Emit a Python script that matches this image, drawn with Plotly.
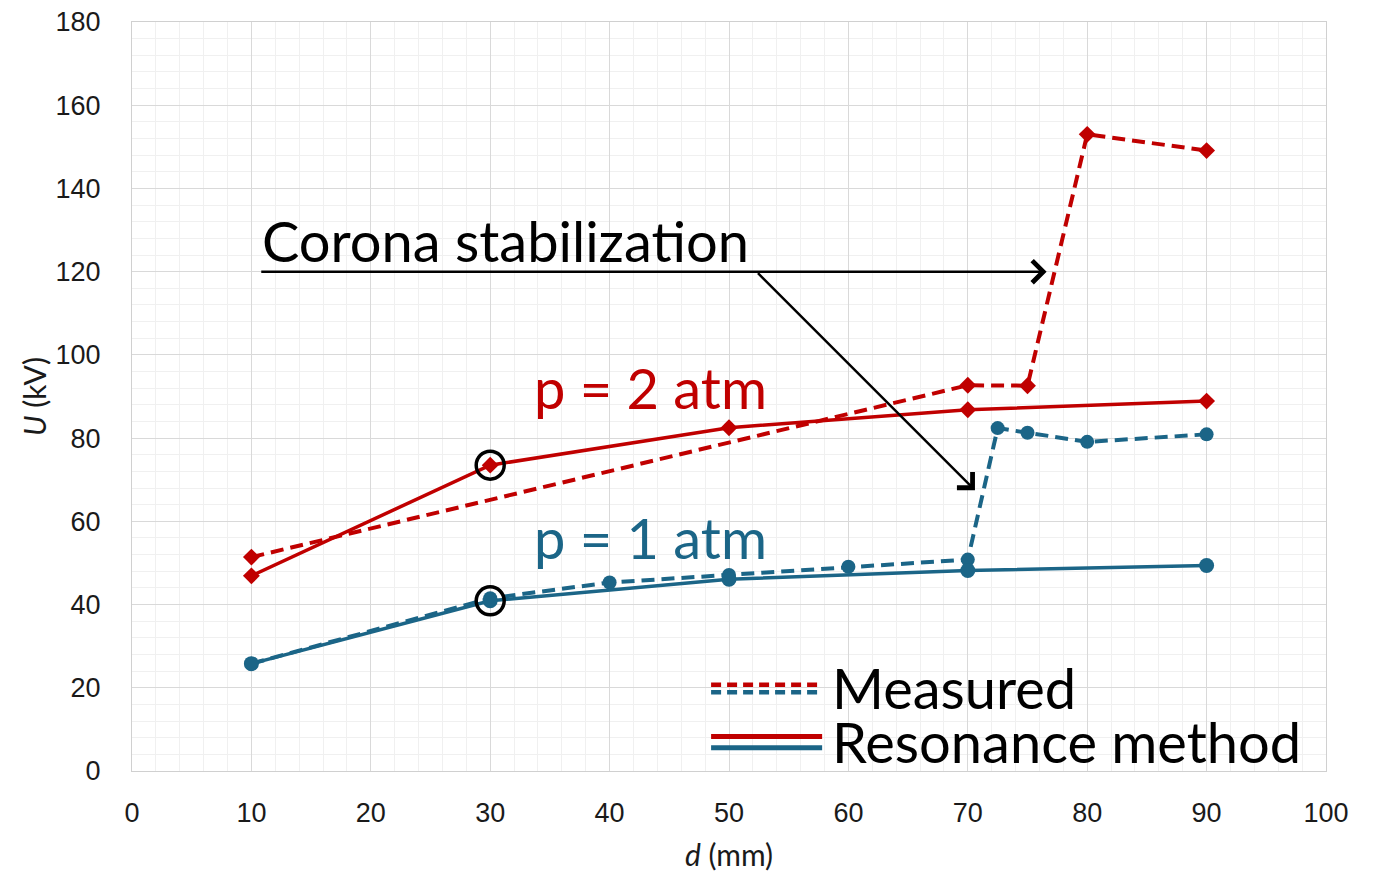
import plotly.graph_objects as go

# Breakdown voltage vs gap distance
d_meas_2atm = [10, 70, 75, 80, 90]
u_meas_2atm = [51.4, 92.7, 92.6, 153.0, 149.1]

d_res_2atm = [10, 30, 50, 70, 90]
u_res_2atm = [46.9, 73.5, 82.5, 86.8, 88.9]

d_meas_1atm = [10, 30, 40, 50, 60, 70, 72.5, 75, 80, 90]
u_meas_1atm = [25.8, 41.5, 45.3, 47.1, 49.1, 50.8, 82.4, 81.3, 79.1, 80.9]

d_res_1atm = [10, 30, 50, 70, 90]
u_res_1atm = [25.8, 40.9, 46.1, 48.2, 49.4]

# points highlighted with a ring (index into resonance series)
ring_idx = 1

x_ticks = list(range(0, 101, 10))
y_ticks = list(range(0, 181, 20))

RED = "#C00000"
BLUE = "#1B6587"
TEXT_FONT = "Lato"
TICK_FONT = "Liberation Sans"
DASH = "13px,7px"

fig = go.Figure()

fig.add_trace(go.Scatter(
    x=d_meas_2atm, y=u_meas_2atm, mode="lines+markers",
    line=dict(color=RED, width=4, dash=DASH),
    marker=dict(symbol="diamond", size=13, color=RED),
    showlegend=False))
fig.add_trace(go.Scatter(
    x=d_res_2atm, y=u_res_2atm, mode="lines+markers",
    line=dict(color=RED, width=3.5),
    marker=dict(symbol="diamond", size=13, color=RED),
    showlegend=False))
fig.add_trace(go.Scatter(
    x=d_meas_1atm, y=u_meas_1atm, mode="lines+markers",
    line=dict(color=BLUE, width=4, dash=DASH),
    marker=dict(symbol="circle", size=14, color=BLUE),
    showlegend=False))
fig.add_trace(go.Scatter(
    x=d_res_1atm, y=u_res_1atm, mode="lines+markers",
    line=dict(color=BLUE, width=3.5),
    marker=dict(symbol="circle", size=15, color=BLUE),
    showlegend=False))

# rings around the reference points
fig.add_trace(go.Scatter(
    x=[d_res_2atm[ring_idx], d_res_1atm[ring_idx]],
    y=[u_res_2atm[ring_idx], u_res_1atm[ring_idx]],
    mode="markers",
    marker=dict(symbol="circle-open", size=28, color="black", line=dict(width=3.5)),
    showlegend=False))

annotations = [
    dict(x=10.7, y=120, xref="x", yref="y", text="Corona stabilization",
         showarrow=False, xanchor="left", yanchor="bottom", yshift=-4,
         font=dict(family=TEXT_FONT, size=56, color="black")),
    dict(x=76.6, y=120, ax=10.7, ay=120, xref="x", yref="y", axref="x", ayref="y",
         text="", showarrow=True, arrowhead=4, arrowsize=1.7, arrowwidth=2.5,
         arrowcolor="black"),
    dict(x=70.6, y=67.5, ax=52.3, ay=120, xref="x", yref="y", axref="x", ayref="y",
         text="", showarrow=True, arrowhead=4, arrowsize=1.7, arrowwidth=2.5,
         arrowcolor="black"),
    dict(x=33.5, y=92.2, xref="x", yref="y", text="p = 2 atm",
         showarrow=False, xanchor="left", yanchor="middle",
         font=dict(family=TEXT_FONT, size=56, color=RED)),
    dict(x=33.5, y=56.2, xref="x", yref="y", text="p = 1 atm",
         showarrow=False, xanchor="left", yanchor="middle",
         font=dict(family=TEXT_FONT, size=56, color=BLUE)),
]

# legend block drawn as line samples plus labels
leg_x0, leg_x1 = 0.485, 0.578
legend_rows = [
    ("Measured", 0.111, [(RED, "dash", 0.115), (BLUE, "dash", 0.105)]),
    ("Resonance method", 0.039, [(RED, "solid", 0.046), (BLUE, "solid", 0.031)]),
]
shapes = []
for label, ty, samples in legend_rows:
    annotations.append(dict(
        x=0.585, y=ty, xref="paper", yref="paper", text=label, showarrow=False,
        xanchor="left", yanchor="middle",
        font=dict(family=TEXT_FONT, size=56, color="black")))
    for color, dash, sy in samples:
        shapes.append(dict(
            type="line", xref="paper", yref="paper", x0=leg_x0, x1=leg_x1,
            y0=sy, y1=sy, line=dict(color=color, width=5 if dash == "solid" else 4.5,
                                    dash="solid" if dash == "solid" else "10px,6px")))

fig.update_layout(
    width=1377, height=872,
    margin=dict(l=132, r=51, t=22, b=101),
    paper_bgcolor="white", plot_bgcolor="white",
    annotations=annotations, shapes=shapes,
    xaxis=dict(
        range=[0, 100], tickvals=x_ticks, ticks="", automargin=False,
        showgrid=True, gridcolor="#d9d9d9", gridwidth=1,
        minor=dict(dtick=2, showgrid=True, gridcolor="#f0f0f0", gridwidth=1),
        showline=True, linecolor="#d0d0d0", linewidth=1, mirror=True,
        zeroline=False,
        tickfont=dict(family=TICK_FONT, size=27, color="#1a1a1a"),
        ticklabelstandoff=18,
        title=dict(text="<i>d</i> (mm)", standoff=20,
                   font=dict(family=TEXT_FONT, size=30, color="#1a1a1a")),
    ),
    yaxis=dict(
        range=[0, 180], tickvals=y_ticks, ticks="", automargin=False,
        showgrid=True, gridcolor="#d9d9d9", gridwidth=1,
        minor=dict(dtick=4, showgrid=True, gridcolor="#f0f0f0", gridwidth=1),
        showline=True, linecolor="#d0d0d0", linewidth=1, mirror=True,
        zeroline=False,
        tickfont=dict(family=TICK_FONT, size=27, color="#1a1a1a"),
        ticklabelstandoff=25,
        title=dict(text="<i>U</i> (kV)", standoff=0,
                   font=dict(family=TEXT_FONT, size=30, color="#1a1a1a")),
    ),
)

fig.write_html("out.html")
